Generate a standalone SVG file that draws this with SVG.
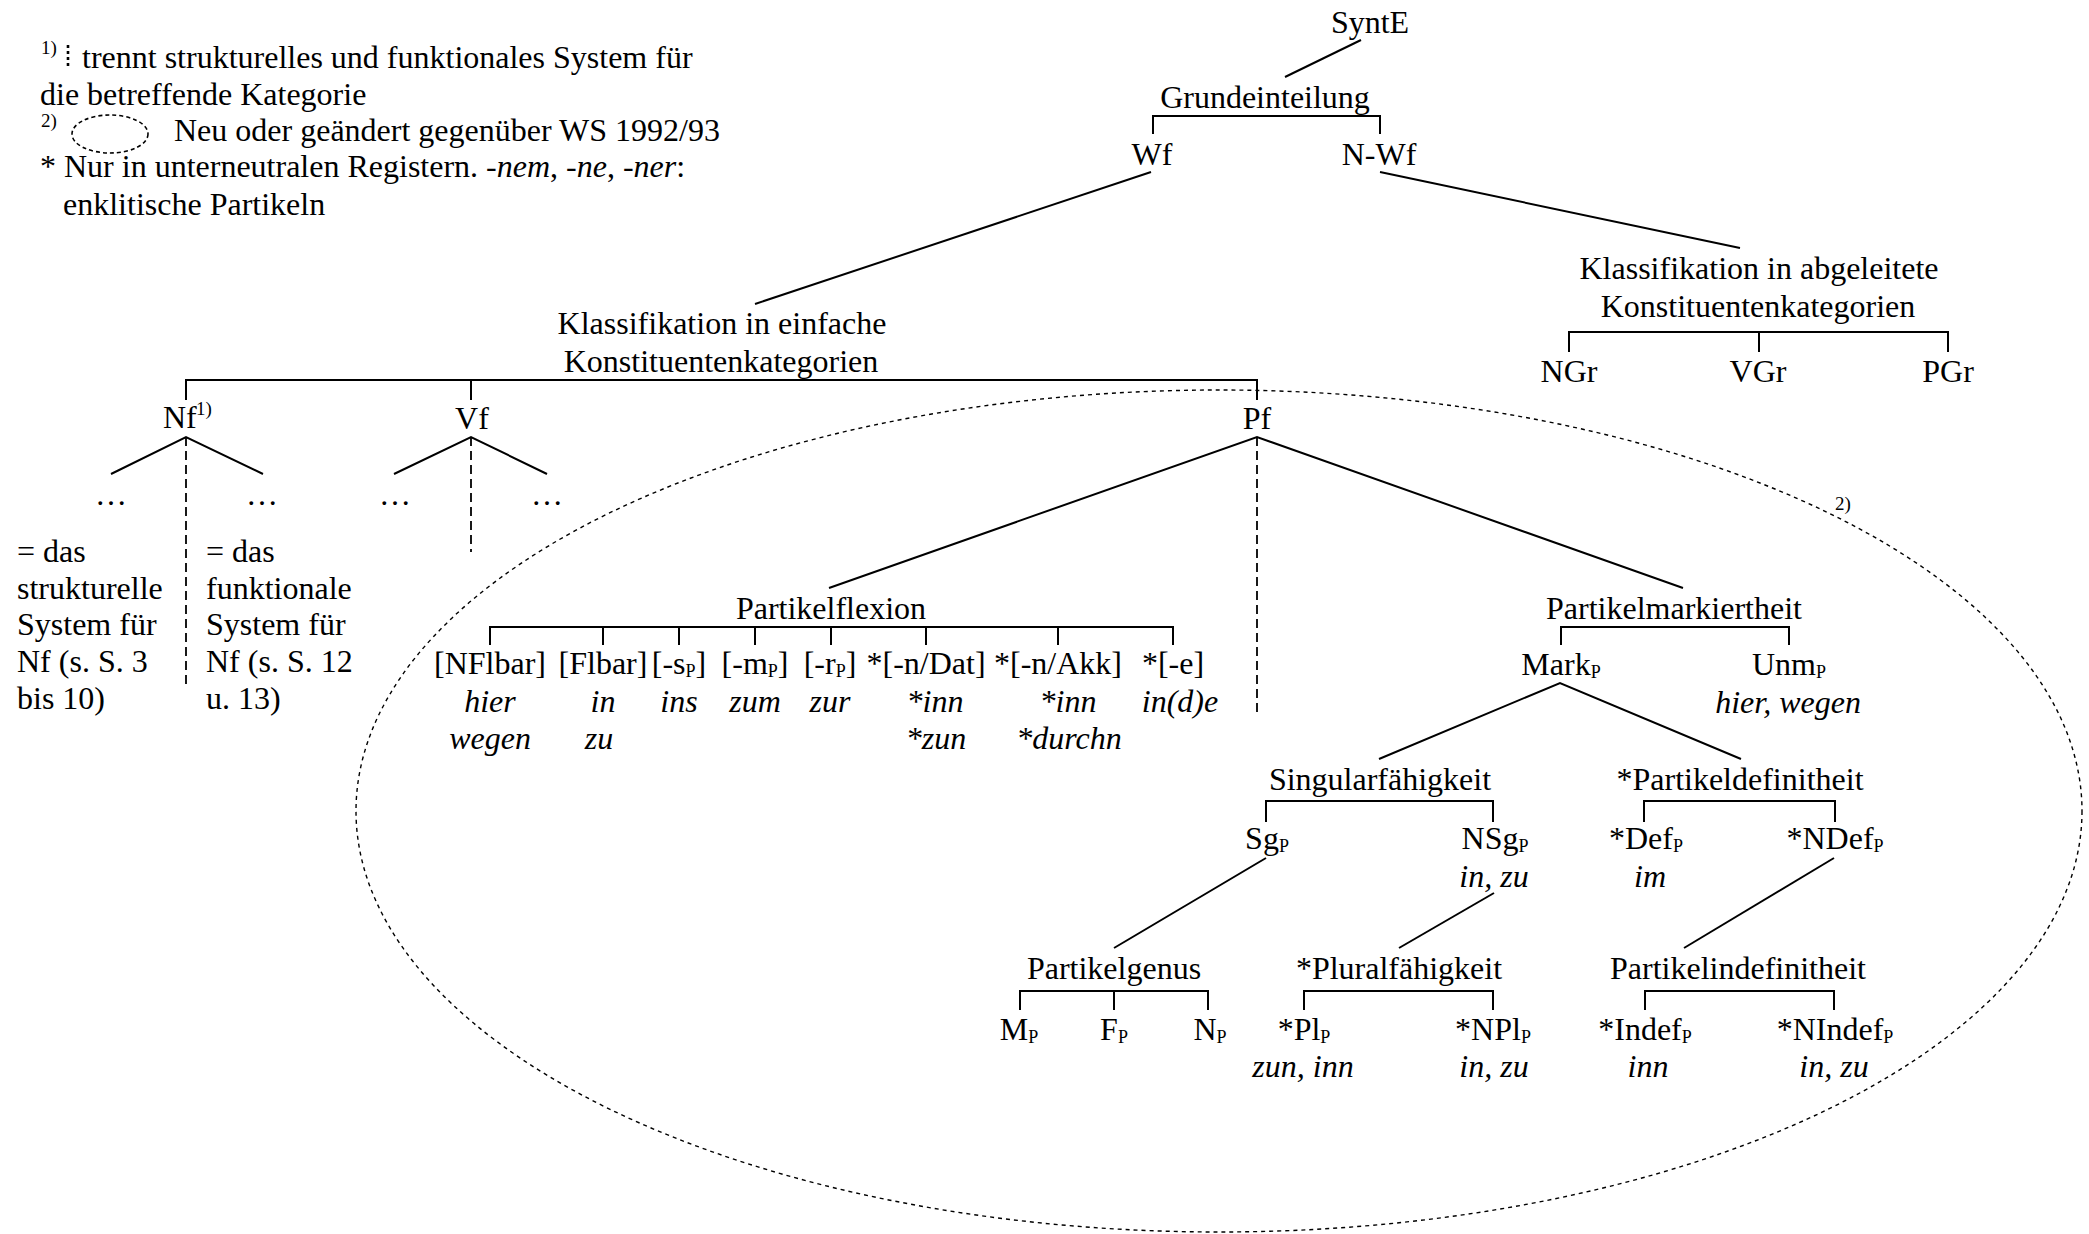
<svg xmlns="http://www.w3.org/2000/svg" width="2089" height="1234" viewBox="0 0 2089 1234">
<style>
text{font-family:"Liberation Serif","Times New Roman",serif;font-size:32px;fill:#000}
.m{text-anchor:middle}
.i{font-style:italic}
.sub{font-size:18px}
.sup{font-size:19px}
.ln{stroke:#000;stroke-width:2;fill:none}
.dash{stroke:#000;stroke-width:1.8;stroke-dasharray:9 5;fill:none}
.dot{stroke:#000;stroke-width:1.4;stroke-dasharray:4 4;fill:none}
</style>
<rect width="2089" height="1234" fill="#fff"/>

<g id="legend">
<text x="41" y="54" class="sup">1)</text>
<line x1="68" y1="45" x2="68" y2="68" stroke="#000" stroke-width="2.6" stroke-dasharray="3 3"/>
<text x="82" y="68">trennt strukturelles und funktionales System für</text>
<text x="40" y="105">die betreffende Kategorie</text>
<text x="41" y="127" class="sup">2)</text>
<ellipse cx="110" cy="134" rx="38" ry="19" stroke="#000" stroke-width="1.6" stroke-dasharray="4 3" fill="none"/>
<text x="174" y="141">Neu oder geändert gegenüber WS 1992/93</text>
<text x="40" y="177">* Nur in unterneutralen Registern. <tspan class="i">-nem</tspan>, <tspan class="i">-ne</tspan>, <tspan class="i">-ner</tspan>:</text>
<text x="63" y="215">enklitische Partikeln</text>
</g>

<g id="ellipse-new">
<ellipse cx="1219" cy="811" rx="863" ry="421" class="dot"/>
<text x="1835" y="510" class="sup">2)</text>
</g>

<g id="connectors">
<line class="ln" x1="1361" y1="40" x2="1285" y2="77"/>
<path class="ln" d="M1153 134V116H1380V134"/>
<line class="ln" x1="1151" y1="172" x2="755" y2="304"/>
<line class="ln" x1="1380" y1="172" x2="1740" y2="248"/>
<path class="ln" d="M1569 352V332H1948V352M1759 332V352"/>
<path class="ln" d="M186 400V380H1257V400M471 380V400"/>
<path class="ln" d="M111 474L186 437L263 474"/>
<path class="ln" d="M394 474L471 437L547 474"/>
<line class="dash" x1="186" y1="437" x2="186" y2="685"/>
<line class="dash" x1="471" y1="437" x2="471" y2="552"/>
<line class="dash" x1="1257" y1="437" x2="1257" y2="715"/>
<path class="ln" d="M829 588L1257 437L1683 588"/>
<path class="ln" d="M490 645V627H1173V645M603 627V645M679 627V645M755 627V645M831 627V645M926 627V645M1058 627V645"/>
<path class="ln" d="M1561 645V627H1789V645"/>
<path class="ln" d="M1379 759L1560 683L1741 759"/>
<path class="ln" d="M1266 822V801H1493V822"/>
<path class="ln" d="M1644 822V801H1835V822"/>
<line class="ln" x1="1266" y1="858" x2="1114" y2="948"/>
<line class="ln" x1="1494" y1="893" x2="1399" y2="948"/>
<line class="ln" x1="1834" y1="858" x2="1684" y2="948"/>
<path class="ln" d="M1020 1010V991H1208V1010M1114 991V1010"/>
<path class="ln" d="M1304 1010V991H1493V1010"/>
<path class="ln" d="M1645 1010V991H1834V1010"/>
</g>

<g id="n-synte"><text x="1370" y="33" class="m">SyntE</text></g>
<g id="n-grund"><text x="1265" y="108" class="m">Grundeinteilung</text></g>
<g id="n-wf"><text x="1152" y="165" class="m">Wf</text></g>
<g id="n-nwf"><text x="1379" y="165" class="m">N-Wf</text></g>
<g id="n-klass-abg"><text x="1759" y="279" class="m">Klassifikation in abgeleitete</text><text x="1758" y="317" class="m">Konstituentenkategorien</text></g>
<g id="n-ngr"><text x="1569" y="382" class="m">NGr</text></g>
<g id="n-vgr"><text x="1758" y="382" class="m">VGr</text></g>
<g id="n-pgr"><text x="1948" y="382" class="m">PGr</text></g>
<g id="n-klass-einf"><text x="722" y="334" class="m">Klassifikation in einfache</text><text x="721" y="372" class="m">Konstituentenkategorien</text></g>
<g id="n-nf"><text x="163" y="428">Nf</text><text x="196" y="415" class="sup">1)</text></g>
<g id="n-vf"><text x="472" y="429" class="m">Vf</text></g>
<g id="n-pf"><text x="1257" y="429" class="m">Pf</text></g>
<g id="n-dots">
<text x="111" y="505" class="m">…</text><text x="262" y="505" class="m">…</text>
<text x="395" y="505" class="m">…</text><text x="547" y="505" class="m">…</text>
</g>
<g id="n-nf-struct">
<text x="17" y="562">= das</text><text x="17" y="599">strukturelle</text><text x="17" y="635">System für</text><text x="17" y="672">Nf (s. S. 3</text><text x="17" y="709">bis 10)</text>
</g>
<g id="n-nf-funkt">
<text x="206" y="562">= das</text><text x="206" y="599">funktionale</text><text x="206" y="635">System für</text><text x="206" y="672">Nf (s. S. 12</text><text x="206" y="709">u. 13)</text>
</g>

<g id="n-flexion"><text x="831" y="619" class="m">Partikelflexion</text></g>
<g id="n-nflbar"><text x="490" y="674" class="m">[NFlbar]</text><text x="490" y="712" class="m i">hier</text><text x="490" y="749" class="m i">wegen</text></g>
<g id="n-flbar"><text x="603" y="674" class="m">[Flbar]</text><text x="603" y="712" class="m i">in</text><text x="599" y="749" class="m i">zu</text></g>
<g id="n-s"><text x="679" y="674" class="m">[-s<tspan class="sub" dy="3">P</tspan><tspan dy="-3">]</tspan></text><text x="679" y="712" class="m i">ins</text></g>
<g id="n-m"><text x="755" y="674" class="m">[-m<tspan class="sub" dy="3">P</tspan><tspan dy="-3">]</tspan></text><text x="755" y="712" class="m i">zum</text></g>
<g id="n-r"><text x="830" y="674" class="m">[-r<tspan class="sub" dy="3">P</tspan><tspan dy="-3">]</tspan></text><text x="830" y="712" class="m i">zur</text></g>
<g id="n-ndat"><text x="926" y="674" class="m">*[-n/Dat]</text><text x="935" y="712" class="m i">*inn</text><text x="936" y="749" class="m i">*zun</text></g>
<g id="n-nakk"><text x="1058" y="674" class="m">*[-n/Akk]</text><text x="1068" y="712" class="m i">*inn</text><text x="1069" y="749" class="m i">*durchn</text></g>
<g id="n-e"><text x="1173" y="674" class="m">*[-e]</text><text x="1180" y="712" class="m i">in(d)e</text></g>

<g id="n-markiert"><text x="1674" y="619" class="m">Partikelmarkiertheit</text></g>
<g id="n-mark"><text x="1561" y="675" class="m">Mark<tspan class="sub" dy="3">P</tspan></text></g>
<g id="n-unm"><text x="1789" y="675" class="m">Unm<tspan class="sub" dy="3">P</tspan></text><text x="1788" y="713" class="m i">hier, wegen</text></g>
<g id="n-sing"><text x="1380" y="790" class="m">Singularfähigkeit</text></g>
<g id="n-def"><text x="1740" y="790" class="m">*Partikeldefinitheit</text></g>
<g id="n-sg"><text x="1267" y="849" class="m">Sg<tspan class="sub" dy="3">P</tspan></text></g>
<g id="n-nsg"><text x="1495" y="849" class="m">NSg<tspan class="sub" dy="3">P</tspan></text><text x="1494" y="887" class="m i">in, zu</text></g>
<g id="n-defp"><text x="1646" y="849" class="m">*Def<tspan class="sub" dy="3">P</tspan></text><text x="1650" y="887" class="m i">im</text></g>
<g id="n-ndefp"><text x="1835" y="849" class="m">*NDef<tspan class="sub" dy="3">P</tspan></text></g>
<g id="n-genus"><text x="1114" y="979" class="m">Partikelgenus</text></g>
<g id="n-plural"><text x="1399" y="979" class="m">*Pluralfähigkeit</text></g>
<g id="n-indef"><text x="1738" y="979" class="m">Partikelindefinitheit</text></g>
<g id="n-mp"><text x="1019" y="1040" class="m">M<tspan class="sub" dy="3">P</tspan></text></g>
<g id="n-fp"><text x="1114" y="1040" class="m">F<tspan class="sub" dy="3">P</tspan></text></g>
<g id="n-np"><text x="1210" y="1040" class="m">N<tspan class="sub" dy="3">P</tspan></text></g>
<g id="n-plp"><text x="1304" y="1040" class="m">*Pl<tspan class="sub" dy="3">P</tspan></text><text x="1303" y="1077" class="m i">zun, inn</text></g>
<g id="n-nplp"><text x="1493" y="1040" class="m">*NPl<tspan class="sub" dy="3">P</tspan></text><text x="1494" y="1077" class="m i">in, zu</text></g>
<g id="n-indefp"><text x="1645" y="1040" class="m">*Indef<tspan class="sub" dy="3">P</tspan></text><text x="1648" y="1077" class="m i">inn</text></g>
<g id="n-nindefp"><text x="1835" y="1040" class="m">*NIndef<tspan class="sub" dy="3">P</tspan></text><text x="1834" y="1077" class="m i">in, zu</text></g>
</svg>
